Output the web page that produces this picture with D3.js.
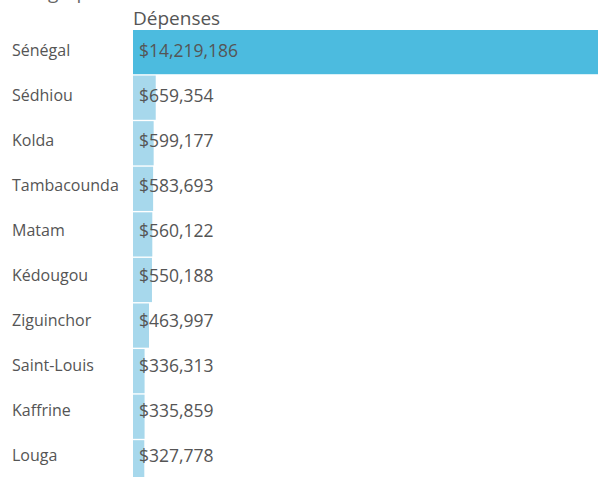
<!DOCTYPE html>
<html>
<head>
<meta charset="utf-8">
<script src="https://cdn.jsdelivr.net/npm/d3@7"></script>
<style>
  html, body { margin: 0; padding: 0; background: #fff; overflow: hidden; }
  svg { display: block; font-family: "Open Sans", "Noto Sans", sans-serif; }
</style>
</head>
<body>
<svg id="chart" width="598" height="477"></svg>
<script>
const categories = ["Sénégal", "Sédhiou", "Kolda", "Tambacounda", "Matam", "Kédougou", "Ziguinchor", "Saint-Louis", "Kaffrine", "Louga"];
const depenses = [14219186, 659354, 599177, 583693, 560122, 550188, 463997, 336313, 335859, 327778];
const highlighted = ["Sénégal"];
const headerTitle = "Géographie";
const measureTitle = "Dépenses";

const svg = d3.select("#chart");
const left = 133;

// bars
const y = d3.scaleBand()
  .domain(categories)
  .range([30, 30 + 45.44 * categories.length])
  .paddingInner(0.03)
  .paddingOuter(0);

// label rows (text row pitch differs slightly from bar pitch in the original)
const yCat = d3.scalePoint().domain(categories).range([50, 455]);
const yVal = d3.scalePoint().domain(categories).range([50.5, 455.5]);

const x = d3.scaleLinear()
  .domain([0, d3.max(depenses)])
  .range([left, left + 490]);

const fmt = v => "$" + d3.format(",")(v);

svg.append("text")
  .attr("x", 12).attr("y", -1)
  .attr("font-size", 19).attr("fill", "#666")
  .text(headerTitle);

svg.append("text")
  .attr("x", left).attr("y", 25)
  .attr("font-size", 19).attr("fill", "#555")
  .text(measureTitle);

const data = categories.map((c, i) => ({ c, v: depenses[i] }));

const g = svg.append("g");
g.selectAll("rect").data(data).join("rect")
  .attr("x", x(0))
  .attr("y", d => y(d.c))
  .attr("width", d => x(d.v) - x(0))
  .attr("height", y.bandwidth())
  .attr("fill", d => highlighted.includes(d.c) ? "#4CBBDF" : "#A7D8EC");

g.selectAll("text.cat").data(data).join("text")
  .attr("class", "cat")
  .attr("x", 12)
  .attr("y", d => yCat(d.c))
  .attr("dy", "0.36em")
  .attr("font-size", 16).attr("fill", "#555")
  .text(d => d.c);

g.selectAll("text.val").data(data).join("text")
  .attr("class", "val")
  .attr("x", left + 6)
  .attr("y", d => yVal(d.c))
  .attr("dy", "0.36em")
  .attr("font-size", 17.5).attr("fill", "#555")
  .text(d => fmt(d.v));
</script>
</body>
</html>
